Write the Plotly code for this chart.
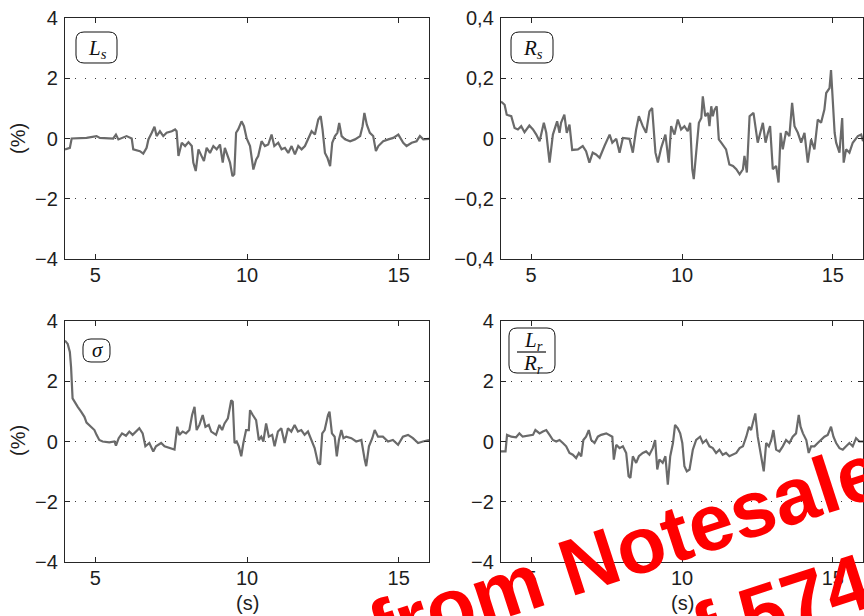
import plotly.graph_objects as go
from plotly.subplots import make_subplots

W, H = 864, 616

# (time [s], deviation [%]) for each estimated parameter
ls_points = [
    (4.00, -0.36), (4.16, -0.31), (4.22, 0.00), (4.71, 0.02), (5.04, 0.08), (5.15, 0.02),
    (5.59, 0.00), (5.68, 0.13), (5.76, -0.03), (6.03, 0.08), (6.20, 0.00), (6.25, -0.36),
    (6.47, -0.42), (6.58, -0.50), (6.69, -0.31), (6.75, -0.03), (6.86, 0.19), (6.95, 0.39),
    (7.02, 0.08), (7.13, 0.24), (7.24, 0.08), (7.35, 0.19), (7.52, 0.24), (7.63, 0.30),
    (7.68, 0.24), (7.74, -0.58), (7.85, -0.14), (7.96, -0.25), (8.07, -0.12), (8.18, -0.25),
    (8.23, -0.80), (8.31, -1.08), (8.40, -0.36), (8.51, -0.58), (8.58, -0.75), (8.67, -0.31),
    (8.78, -0.48), (8.89, -0.25), (9.00, -0.36), (9.11, -0.20), (9.20, -0.80), (9.27, -0.31),
    (9.36, -0.58), (9.44, -0.80), (9.52, -1.25), (9.58, -1.19), (9.64, 0.19), (9.71, 0.30),
    (9.82, 0.57), (9.90, 0.41), (9.99, 0.00), (10.10, -0.25), (10.21, -1.03), (10.30, -0.70),
    (10.37, -0.58), (10.48, -0.09), (10.59, -0.25), (10.70, -0.20), (10.81, 0.13), (10.90, -0.25),
    (11.03, -0.14), (11.14, -0.36), (11.25, -0.31), (11.36, -0.48), (11.47, -0.25), (11.58, -0.53),
    (11.69, -0.25), (11.80, -0.36), (11.91, -0.25), (12.02, -0.03), (12.13, 0.24), (12.24, 0.13),
    (12.35, 0.63), (12.43, 0.74), (12.49, 0.30), (12.57, -0.48), (12.65, -0.64), (12.74, -0.92),
    (12.81, -0.14), (12.90, 0.08), (12.98, 0.19), (13.04, 0.52), (13.12, 0.08), (13.23, -0.03),
    (13.40, -0.09), (13.56, -0.03), (13.73, 0.08), (13.81, 0.41), (13.87, 0.85), (13.95, 0.46),
    (14.05, 0.19), (14.16, 0.08), (14.25, -0.42), (14.33, -0.25), (14.49, -0.09), (14.66, -0.03),
    (14.82, 0.02), (14.99, 0.13), (15.15, -0.14), (15.26, -0.25), (15.43, -0.14), (15.59, -0.09),
    (15.70, 0.08), (15.81, -0.03), (16.00, -0.01),
]

rs_points = [
    (4.00, 0.123), (4.12, 0.112), (4.19, 0.079), (4.34, 0.074), (4.45, 0.035), (4.56, 0.030),
    (4.67, 0.041), (4.78, 0.021), (4.94, 0.043), (5.06, 0.030), (5.17, 0.013), (5.28, -0.009),
    (5.42, 0.052), (5.50, 0.019), (5.61, -0.080), (5.72, 0.013), (5.86, 0.057), (5.94, 0.019),
    (5.99, 0.052), (6.10, 0.079), (6.18, 0.019), (6.27, 0.046), (6.36, -0.038), (6.55, -0.036),
    (6.71, -0.025), (6.82, -0.042), (6.93, -0.080), (7.04, -0.047), (7.15, -0.053), (7.27, -0.064),
    (7.43, -0.025), (7.60, 0.013), (7.69, -0.014), (7.82, -0.001), (7.93, -0.047), (8.04, 0.002),
    (8.26, -0.001), (8.37, -0.047), (8.48, 0.030), (8.57, 0.074), (8.70, 0.041), (8.81, 0.019),
    (8.92, 0.090), (9.01, 0.101), (9.12, -0.047), (9.20, -0.080), (9.31, -0.031), (9.45, 0.013),
    (9.56, -0.080), (9.64, 0.041), (9.75, 0.013), (9.86, 0.063), (9.97, 0.030), (10.08, 0.041),
    (10.19, 0.024), (10.27, 0.052), (10.34, -0.102), (10.39, -0.135), (10.47, -0.047), (10.56, 0.052),
    (10.64, 0.068), (10.69, 0.140), (10.77, 0.074), (10.86, 0.085), (10.91, 0.041), (10.97, 0.107),
    (11.02, 0.074), (11.08, 0.096), (11.15, 0.107), (11.22, -0.003), (11.30, -0.014), (11.46, -0.036),
    (11.57, -0.086), (11.69, -0.091), (11.80, -0.102), (11.91, -0.119), (12.02, -0.102), (12.07, -0.058),
    (12.15, -0.113), (12.24, 0.074), (12.37, 0.085), (12.51, -0.014), (12.68, 0.052), (12.77, -0.014),
    (12.85, 0.019), (12.92, 0.041), (13.01, -0.102), (13.12, -0.091), (13.20, -0.146), (13.27, 0.019),
    (13.34, -0.036), (13.45, 0.024), (13.56, 0.008), (13.65, 0.118), (13.73, 0.041), (13.84, 0.019),
    (13.95, -0.014), (14.06, 0.019), (14.17, -0.080), (14.28, -0.003), (14.39, -0.036), (14.50, 0.063),
    (14.61, 0.052), (14.72, 0.096), (14.78, 0.151), (14.89, 0.167), (14.94, 0.227), (15.00, 0.140),
    (15.06, 0.019), (15.11, -0.014), (15.22, -0.047), (15.31, 0.068), (15.36, -0.080), (15.44, -0.036),
    (15.55, -0.047), (15.66, -0.014), (15.83, 0.008), (15.94, 0.013), (16.00, -0.009),
]

sigma_points = [
    (4.00, 3.35), (4.09, 3.24), (4.16, 2.97), (4.20, 2.47), (4.25, 1.43), (4.31, 1.32),
    (4.42, 1.15), (4.53, 0.99), (4.64, 0.82), (4.71, 0.63), (4.86, 0.49), (4.97, 0.38),
    (5.04, 0.22), (5.13, 0.05), (5.24, 0.00), (5.46, -0.03), (5.63, 0.00), (5.68, -0.14),
    (5.77, 0.11), (5.88, 0.27), (6.01, 0.19), (6.12, 0.33), (6.23, 0.22), (6.34, 0.33),
    (6.45, 0.44), (6.56, 0.27), (6.65, -0.16), (6.78, -0.05), (6.91, -0.33), (7.00, -0.16),
    (7.17, -0.05), (7.28, -0.16), (7.44, -0.22), (7.61, -0.27), (7.70, 0.49), (7.77, 0.22),
    (7.88, 0.33), (7.99, 0.27), (8.10, 0.38), (8.19, 0.88), (8.27, 1.15), (8.34, 0.38),
    (8.43, 0.55), (8.54, 0.88), (8.63, 0.49), (8.74, 0.55), (8.82, 0.33), (8.98, 0.22),
    (9.09, 0.55), (9.18, 0.38), (9.26, 0.60), (9.37, 0.77), (9.48, 1.37), (9.53, 1.32),
    (9.59, -0.05), (9.66, 0.00), (9.73, -0.16), (9.81, -0.49), (9.88, -0.05), (9.97, 0.38),
    (10.06, 0.38), (10.10, 1.04), (10.19, 0.88), (10.30, 0.71), (10.39, 0.05), (10.47, 0.16),
    (10.54, 0.00), (10.63, 0.60), (10.72, 0.16), (10.83, 0.22), (10.91, -0.16), (11.02, 0.33),
    (11.13, 0.44), (11.24, -0.05), (11.35, 0.44), (11.46, 0.33), (11.57, 0.55), (11.68, 0.33),
    (11.79, 0.38), (11.90, 0.22), (12.01, 0.33), (12.12, 0.05), (12.23, -0.22), (12.34, -0.71),
    (12.41, -0.77), (12.48, 0.27), (12.56, 0.38), (12.67, 0.88), (12.72, 0.99), (12.80, 0.27),
    (12.89, 0.16), (12.96, -0.49), (13.03, 0.05), (13.11, 0.38), (13.18, 0.11), (13.27, 0.16),
    (13.44, 0.11), (13.60, 0.00), (13.77, 0.05), (13.88, -0.60), (13.93, -0.82), (14.02, -0.16),
    (14.13, 0.11), (14.21, 0.38), (14.32, 0.16), (14.48, 0.16), (14.65, 0.00), (14.81, 0.05),
    (14.98, -0.11), (15.14, 0.16), (15.31, 0.22), (15.47, 0.11), (15.64, -0.05), (15.80, 0.00),
    (16.00, 0.05),
]

lr_points = [
    (4.00, -0.33), (4.15, -0.33), (4.20, 0.22), (4.34, 0.16), (4.50, 0.14), (4.61, 0.27),
    (4.72, 0.16), (4.89, 0.19), (5.06, 0.22), (5.14, 0.38), (5.28, 0.27), (5.39, 0.33),
    (5.50, 0.38), (5.61, 0.22), (5.72, 0.05), (5.83, 0.00), (5.94, 0.05), (6.05, -0.05),
    (6.16, -0.16), (6.27, -0.38), (6.38, -0.44), (6.49, -0.55), (6.58, -0.38), (6.66, -0.49),
    (6.73, 0.05), (6.82, 0.16), (6.91, 0.38), (6.99, 0.05), (7.10, -0.05), (7.21, 0.16),
    (7.32, 0.22), (7.49, 0.27), (7.60, 0.22), (7.69, 0.16), (7.74, -0.60), (7.82, -0.11),
    (7.93, -0.22), (8.04, -0.16), (8.15, -0.38), (8.23, -1.15), (8.29, -1.21), (8.37, -0.49),
    (8.48, -0.71), (8.57, -0.49), (8.70, -0.38), (8.81, -0.33), (8.92, -0.44), (9.03, -0.22),
    (9.11, 0.05), (9.18, -0.93), (9.25, -0.60), (9.36, -0.71), (9.45, -0.49), (9.53, -1.43),
    (9.61, -0.49), (9.70, -0.05), (9.77, 0.55), (9.86, 0.44), (9.94, 0.27), (10.01, -0.05),
    (10.08, -0.82), (10.16, -0.99), (10.25, -0.93), (10.36, -0.27), (10.47, 0.05), (10.60, 0.16),
    (10.69, -0.05), (10.80, 0.05), (10.91, -0.16), (11.02, -0.22), (11.13, -0.38), (11.24, -0.27),
    (11.35, -0.44), (11.46, -0.38), (11.57, -0.49), (11.69, -0.44), (11.80, -0.38), (11.91, -0.22),
    (12.02, -0.16), (12.13, 0.16), (12.22, 0.49), (12.29, 0.38), (12.37, 0.71), (12.43, 0.93),
    (12.51, 0.16), (12.57, -0.16), (12.65, -0.60), (12.71, -0.99), (12.79, -0.05), (12.88, -0.16),
    (12.96, 0.05), (13.03, 0.38), (13.12, -0.27), (13.23, -0.33), (13.34, -0.16), (13.45, 0.05),
    (13.56, -0.05), (13.67, 0.16), (13.78, 0.27), (13.87, 0.88), (13.93, 0.49), (14.01, 0.27),
    (14.12, 0.05), (14.20, -0.38), (14.28, -0.16), (14.39, -0.16), (14.50, -0.05), (14.61, 0.05),
    (14.72, 0.16), (14.83, 0.22), (14.94, 0.49), (15.02, 0.16), (15.11, -0.05), (15.22, -0.22),
    (15.33, -0.27), (15.44, -0.16), (15.55, -0.05), (15.66, -0.16), (15.77, 0.11), (15.88, 0.00),
    (16.00, 0.00),
]

time_ticks = [5, 10, 15]
pct_ticks = [-4, -2, 0, 2, 4]
pct_text = ["\u22124", "\u22122", "0", "2", "4"]
rs_ticks = [-0.4, -0.2, 0, 0.2, 0.4]
rs_text = ["\u22120,4", "\u22120,2", "0", "0,2", "0,4"]

LINE_COLOR = "#6a6a6a"
FRAME_COLOR = "#262626"
TEXT_COLOR = "#1e1e1e"
SANS = "Liberation Sans, Arial, Helvetica, sans-serif"
SERIF = "Liberation Serif, Times New Roman, serif"

# panel frames in pixels: (left, top, right, bottom)
panels = {
    (1, 1): (65, 18, 429, 259),
    (1, 2): (501, 18, 863, 259),
    (2, 1): (65, 321, 429, 562),
    (2, 2): (501, 321, 863, 562),
}


def px_x(p):
    return p / W


def px_y(p):
    return 1 - p / H


fig = make_subplots(rows=2, cols=2)

series = [
    (1, 1, ls_points),
    (1, 2, rs_points),
    (2, 1, sigma_points),
    (2, 2, lr_points),
]
for r, c, pts in series:
    t = [p[0] for p in pts]
    v = [p[1] for p in pts]
    fig.add_trace(
        go.Scatter(x=t, y=v, mode="lines",
                   line=dict(color=LINE_COLOR, width=2.2),
                   showlegend=False, hoverinfo="skip"),
        row=r, col=c,
    )

axis_common = dict(
    showline=True, linecolor=FRAME_COLOR, linewidth=1.4, mirror="ticks",
    ticks="inside", ticklen=5, tickwidth=1, tickcolor=FRAME_COLOR,
    tickfont=dict(family=SANS, size=20, color=TEXT_COLOR),
    zeroline=False, automargin=False,
)

for (r, c), (l, t, rr, b) in panels.items():
    fig.update_xaxes(
        range=[4, 16], tickvals=time_ticks, ticktext=[str(v) for v in time_ticks],
        showgrid=False, domain=[px_x(l), px_x(rr)], ticklabelstandoff=-2,
        row=r, col=c, **axis_common,
    )
    if (r, c) == (1, 2):
        yt, ytt, yr = rs_ticks, rs_text, [-0.4, 0.4]
    else:
        yt, ytt, yr = pct_ticks, pct_text, [-4, 4]
    fig.update_yaxes(
        range=yr, tickvals=yt, ticktext=ytt,
        showgrid=True, gridcolor="#3a3a3a", gridwidth=1.2, griddash="1.2px,8.8px",
        domain=[px_y(b), px_y(t)], ticklabelstandoff=2,
        row=r, col=c, **axis_common,
    )

annotations = []
shapes = []


def note(xp, yp, text, font, angle=0):
    annotations.append(dict(x=px_x(xp), y=px_y(yp), xref="paper", yref="paper",
                            text=text, textangle=angle, showarrow=False, font=font,
                            xanchor="center", yanchor="middle"))


label_font = dict(family=SANS, size=20, color=TEXT_COLOR)

# axis captions
for yc in (139, 441):
    note(18, yc, "(%)", label_font, angle=-90)
for xc in (247, 682):
    note(xc, 603, "(s)", label_font)


def rounded_box(x0, y0, x1, y1, rad):
    X = lambda v: f"{px_x(v):.5f}"
    Y = lambda v: f"{px_y(v):.5f}"
    return (f"M {X(x0 + rad)},{Y(y0)} L {X(x1 - rad)},{Y(y0)} "
            f"Q {X(x1)},{Y(y0)} {X(x1)},{Y(y0 + rad)} L {X(x1)},{Y(y1 - rad)} "
            f"Q {X(x1)},{Y(y1)} {X(x1 - rad)},{Y(y1)} L {X(x0 + rad)},{Y(y1)} "
            f"Q {X(x0)},{Y(y1)} {X(x0)},{Y(y1 - rad)} L {X(x0)},{Y(y0 + rad)} "
            f"Q {X(x0)},{Y(y0)} {X(x0 + rad)},{Y(y0)} Z")


# parameter name tags
tag_font = dict(family=SERIF, size=21, color="#111111")
tags = [
    ((76, 32, 117, 63), [("<i>L</i><sub><i>s</i></sub>", 49)]),
    ((511, 32, 553, 63), [("<i>R</i><sub><i>s</i></sub>", 49)]),
    ((83, 339, 110, 362), [("<i>\u03c3</i>", 350)]),
    ((509, 328, 555, 373), [("<i>L</i><sub><i>r</i></sub>", 341),
                             ("<i>R</i><sub><i>r</i></sub>", 364)]),
]
for (x0, y0, x1, y1), lines in tags:
    shapes.append(dict(type="path", path=rounded_box(x0, y0, x1, y1, 8),
                       xref="paper", yref="paper",
                       line=dict(color="#111111", width=1), fillcolor="white"))
    xc = (x0 + x1) / 2
    for txt, yc in lines:
        note(xc + 1, yc, txt, tag_font)
    if len(lines) == 2:
        shapes.append(dict(type="line", xref="paper", yref="paper",
                           x0=px_x(517), x1=px_x(546), y0=px_y(352), y1=px_y(352),
                           line=dict(color="#111111", width=1.2)))

# red preview stamp
stamp_font = dict(family="Liberation Sans, Arial, sans-serif", size=80, color="#ff0000")
note(581, 564, "<b>Preview from Notesale.co.uk</b>", stamp_font, angle=-18)
note(604, 664, "<b>Page 98 of 574</b>", stamp_font, angle=-18)

fig.update_layout(
    width=W, height=H,
    margin=dict(l=0, r=0, t=0, b=0, autoexpand=False),
    paper_bgcolor="white", plot_bgcolor="white",
    showlegend=False,
    annotations=annotations,
    shapes=shapes,
)

fig.write_html("out.html")
